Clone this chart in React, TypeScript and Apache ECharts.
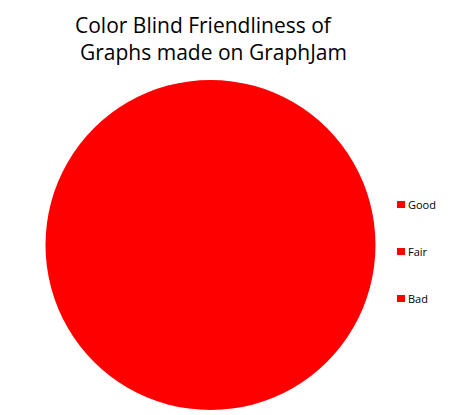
import React, { useEffect, useRef } from 'react';
import * as echarts from 'echarts';

const categories = ['Good', 'Fair', 'Bad'];
const values = [0, 0, 100];
const sliceColors = ['#ff0000', '#ff0000', '#ff0000'];
const titleLines = ['Color Blind Friendliness of', 'Graphs made on GraphJam'];

const App: React.FC = () => {
	const chartRef = useRef<HTMLDivElement>(null);

	useEffect(() => {
		document.body.style.margin = '0';
		if (!chartRef.current) return;
		const chart = echarts.init(chartRef.current, undefined, { renderer: 'svg' });

		const titleStyle = {
			color: '#000',
			fontFamily: 'Open Sans',
			fontSize: 21,
			fontWeight: 'normal' as const,
			lineHeight: 24
		};

		const option: echarts.EChartsOption = {
			animation: false,
			backgroundColor: '#ffffff',
			title: [
				{ text: titleLines[0], left: 75, top: 13, padding: 0, textStyle: titleStyle },
				{ text: titleLines[1], left: 80, top: 40, padding: 0, textStyle: titleStyle }
			],
			legend: {
				orient: 'vertical',
				left: 392,
				top: 194,
				itemWidth: 8,
				itemHeight: 7,
				itemGap: 36,
				icon: 'rect',
				data: categories,
				textStyle: {
					color: '#000',
					fontFamily: 'Open Sans',
					fontSize: 11,
					padding: [0, 0, 0, -2]
				}
			},
			series: [
				{
					type: 'pie',
					center: [210.5, 245],
					radius: 165,
					startAngle: 90,
					label: { show: false },
					labelLine: { show: false },
					silent: true,
					itemStyle: { borderWidth: 0 },
					data: categories.map((name, i) => ({
						name,
						value: values[i],
						itemStyle: { color: sliceColors[i] }
					}))
				}
			]
		};

		chart.setOption(option);
		return () => {
			chart.dispose();
		};
	}, []);

	return <div ref={chartRef} style={{ width: '471px', height: '415px' }} />;
};

export default App;
